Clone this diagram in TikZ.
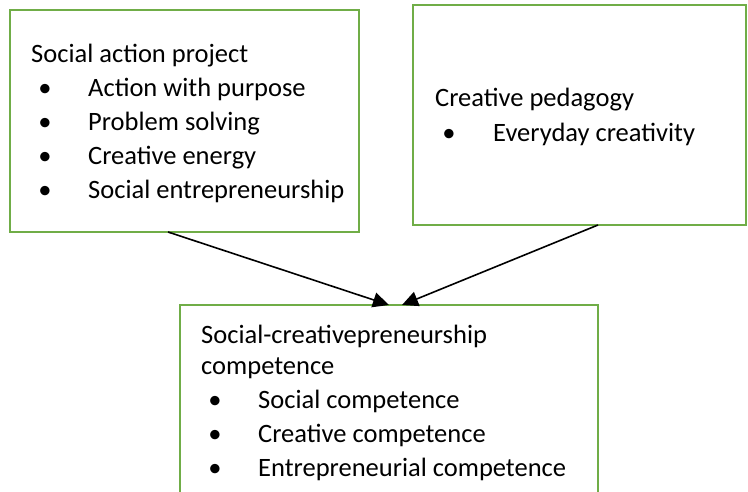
\documentclass[tikz,border=0pt]{standalone}
\usepackage{fontspec}
\setmainfont{Carlito}
\usetikzlibrary{arrows.meta}
\definecolor{boxgreen}{HTML}{70AD47}
\tikzset{
  box/.style={draw=boxgreen, line width=2.5pt},
  txt/.style={anchor=base west, inner sep=0pt, font=\fontsize{26.5}{30}\selectfont},
  bul/.style={anchor=base, inner sep=0pt, font=\fontsize{26.5}{30}\selectfont},
  arr/.style={line width=1.6pt, -{Triangle[length=16pt,width=15pt]}}
}
\begin{document}
\begin{tikzpicture}[x=1pt,y=-1pt]
\clip (0,0) rectangle (748,492);
\fill[white] (0,0) rectangle (748,492);
% boxes
\draw[box] (10,10) rectangle (359,232);
\draw[box] (413,5) rectangle (746,225);
\draw[box] (180,305) rectangle (598,520);
\coordinate (b1out) at (168,232);
\coordinate (b2out) at (598,225);
\coordinate (b3inA) at (389,305);
\coordinate (b3inB) at (402,305);
% box 1 text
\node[txt] (t1) at (31,63) {Social action project};
\node[bul] (p11) at (45,97) {•};
\node[txt] (t11) at (88,97) {Action with purpose};
\node[bul] (p12) at (45,131) {•};
\node[txt] (t12) at (88,131) {Problem solving};
\node[bul] (p13) at (45,165) {•};
\node[txt] (t13) at (88,165) {Creative energy};
\node[bul] (p14) at (45,199) {•};
\node[txt] (t14) at (88,199) {Social entrepreneurship};
% box 2 text
\node[txt] (t2) at (435,107) {Creative pedagogy};
\node[bul] (p21) at (449,142) {•};
\node[txt] (t21) at (493,142) {Everyday creativity};
% box 3 text
\node[txt] (t3) at (201,343) {Social-creativepreneurship};
\node[txt] (t3b) at (201,374) {competence};
\node[bul] (p31) at (215,408) {•};
\node[txt] (t31) at (258,408) {Social competence};
\node[bul] (p32) at (215,442) {•};
\node[txt] (t32) at (258,442) {Creative competence};
\node[bul] (p33) at (215,476) {•};
\node[txt] (t33) at (258,476) {Entrepreneurial competence};
% arrows
\draw[arr] (b1out) -- (b3inA);
\draw[arr] (b2out) -- (b3inB);
\end{tikzpicture}
\end{document}
